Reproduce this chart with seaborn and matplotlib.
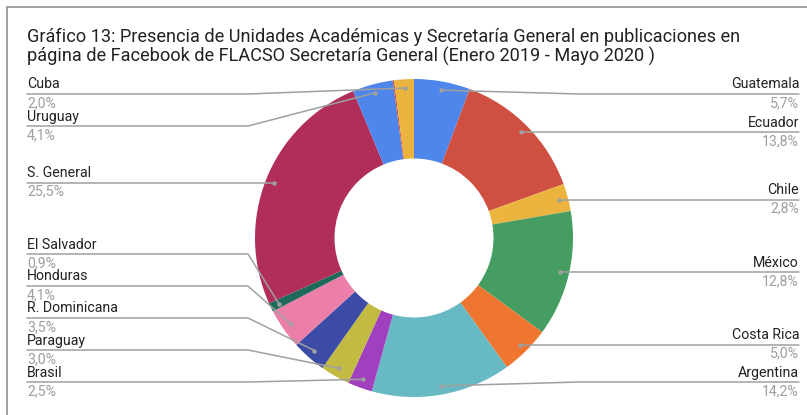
import matplotlib
matplotlib.use('Agg')
import matplotlib.pyplot as plt
import numpy as np
import seaborn as sns

sns.set_style('white')
plt.rcParams['font.family'] = ['Roboto', 'DejaVu Sans']

# datos (porcentaje de publicaciones)
paises = ['Guatemala', 'Ecuador', 'Chile', 'México', 'Costa Rica', 'Argentina',
          'Brasil', 'Paraguay', 'R. Dominicana', 'Honduras', 'El Salvador',
          'S. General', 'Uruguay', '', 'Cuba']
valores = [5.7, 13.8, 2.8, 12.8, 5.0, 14.2, 2.5, 3.0, 3.5, 4.1, 0.9, 25.5, 4.1, 0.15, 2.0]
etiquetas = ['5,7%', '13,8%', '2,8%', '12,8%', '5,0%', '14,2%', '2,5%', '3,0%',
             '3,5%', '4,1%', '0,9%', '25,5%', '4,1%', '', '2,0%']

colores = ['#4f86ec', '#cf5040', '#ebb43f', '#469d62', '#ee7630', '#67bac4',
           '#a040be', '#c2ba43', '#3c4ba5', '#ec7fa9', '#1e6a5a', '#b02e58',
           '#4f86ec', '#cf5040', '#ebb43f']

W, H = 807, 415
fig = plt.figure(figsize=(W / 100, H / 100), dpi=100)
ax = fig.add_axes([0, 0, 1, 1])

cx, cy, R = 414, 238, 159
wedges, _ = ax.pie(valores, colors=colores, startangle=90, counterclock=False,
                   center=(cx, H - cy), radius=R,
                   wedgeprops=dict(width=R * 0.5, linewidth=0))
ax.set_xlim(0, W)
ax.set_ylim(0, H)
ax.axis('off')

# borde gris arriba e izquierda
ax.plot([6.5, W], [H - 7, H - 7], color='#9a9a9a', lw=1.3)
ax.plot([6.5, 6.5], [0, H - 7], color='#9a9a9a', lw=1.3)

ax.text(27, H - 28, 'Gráfico 13: Presencia de Unidades Académicas y Secretaría General en publicaciones en\n'
        'página de Facebook de FLACSO Secretaría General (Enero 2019 - Mayo 2020 )',
        fontsize=13.1, va='top', ha='left', color='#222222', linespacing=1.05)

# puntos de anclaje
puntos = []
for w, nombre, et in zip(wedges, paises, etiquetas):
    if not nombre:
        continue
    ang = np.deg2rad((w.theta1 + w.theta2) / 2)
    px = cx + 0.945 * R * np.cos(ang)
    py = cy - 0.945 * R * np.sin(ang)
    puntos.append(dict(nombre=nombre, et=et, px=px, py=py, lado='der' if px >= cx else 'izq'))

gap, ymin, ymax = 32, 94, 382
for lado in ['der', 'izq']:
    grupo = sorted([p for p in puntos if p['lado'] == lado], key=lambda p: p['py'])
    ys = [p['py'] for p in grupo]
    for i in range(len(ys)):
        ys[i] = max(ys[i], ymin if i == 0 else ys[i - 1] + gap)
    for i in range(len(ys) - 1, -1, -1):
        ys[i] = min(ys[i], ymax if i == len(ys) - 1 else ys[i + 1] - gap)
    for p, y in zip(grupo, ys):
        p['ly'] = y

for p in puntos:
    ly = H - p['ly']
    if p['lado'] == 'der':
        xb, xe, ha = cx + R + 6, 799, 'right'
    else:
        xb, xe, ha = cx - R - 7, 27, 'left'
    ax.plot([p['px'], xb, xe], [H - p['py'], ly, ly], color='#a0a0a0', lw=1.1,
            solid_joinstyle='round')
    ax.plot(p['px'], H - p['py'], 'o', color='#a0a0a0', ms=3.2, mec='none')
    ax.text(xe, ly + 2.5, p['nombre'], fontsize=10.2, ha=ha, va='bottom', color='#222222')
    ax.text(xe, ly - 2, p['et'], fontsize=10.2, ha=ha, va='top', color='#9e9e9e')

fig.savefig('out.png', dpi=100)
